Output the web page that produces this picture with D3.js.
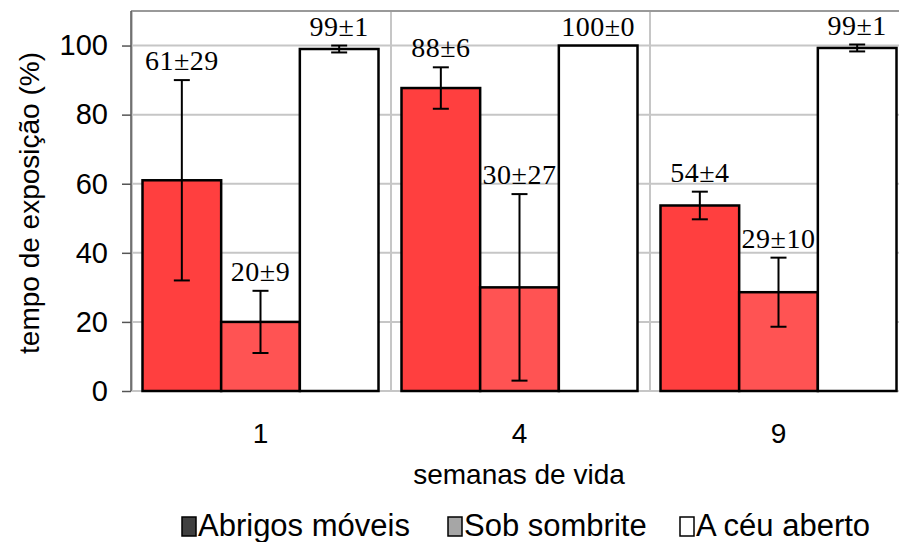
<!DOCTYPE html>
<html lang="pt">
<head>
<meta charset="UTF-8">
<title>tempo de exposição</title>
<style>
  body { margin: 0; background: #fff; }
  svg { display: block; }
</style>
</head>
<body>
<div id="container"></div>
<script src="https://d3js.org/d3.v7.min.js"></script>
<script>
// semanas de vida
var groups = ["1", "4", "9"];
var series = ["Abrigos móveis", "Sob sombrite", "A céu aberto"];
// medias e desvios, uma linha por serie
var means = [
  [61, 87.7, 53.7],
  [20, 30, 28.6],
  [99, 100, 99.3]
];
var errs = [
  [29, 6, 4],
  [9, 27, 10],
  [1, 0, 1]
];
var labels = [
  ["61±29", "88±6", "54±4"],
  ["20±9", "30±27", "29±10"],
  ["99±1", "100±0", "99±1"]
];
var yTicks = [0, 20, 40, 60, 80, 100];

var barColors = ["#ff3f3f", "#ff5353", "#ffffff"];
var legendColors = ["#404040", "#a6a6a6", "#ffffff"];

var width = 899, height = 542;
var plot = {left: 131, right: 908, top: 11, bottom: 391};

var svg = d3.select("#container").append("svg")
    .attr("width", width)
    .attr("height", height);

var x0 = d3.scaleBand().domain(groups).range([plot.left, plot.right]);
var x1 = d3.scaleBand().domain(d3.range(series.length))
    .range([11.5, x0.bandwidth() - 11.5]);
var y = d3.scaleLinear().domain([0, 110]).range([plot.bottom, plot.top]);

// grid
svg.append("g").selectAll("line")
    .data(yTicks)
  .enter().append("line")
    .attr("x1", plot.left).attr("x2", plot.right)
    .attr("y1", function(d) { return y(d); })
    .attr("y2", function(d) { return y(d); })
    .attr("stroke", "#c6c6c6").attr("stroke-width", 2);

svg.append("g").selectAll("line")
    .data(groups)
  .enter().append("line")
    .attr("x1", function(d) { return x0(d) + 1; })
    .attr("x2", function(d) { return x0(d) + 1; })
    .attr("y1", plot.top).attr("y2", plot.bottom)
    .attr("stroke", "#c6c6c6").attr("stroke-width", 2);

// top border
svg.append("line")
    .attr("x1", plot.left).attr("x2", plot.right)
    .attr("y1", plot.top).attr("y2", plot.top)
    .attr("stroke", "#999").attr("stroke-width", 2);

// bars
var rows = [];
series.forEach(function(s, i) {
  groups.forEach(function(g, j) {
    rows.push({s: i, g: g, v: means[i][j], e: errs[i][j], t: labels[i][j]});
  });
});

svg.append("g").selectAll("rect")
    .data(rows)
  .enter().append("rect")
    .attr("x", function(d) { return x0(d.g) + x1(d.s); })
    .attr("y", function(d) { return y(d.v); })
    .attr("width", x1.bandwidth())
    .attr("height", function(d) { return y(0) - y(d.v); })
    .attr("fill", function(d) { return barColors[d.s]; })
    .attr("stroke", "#000").attr("stroke-width", 2.5);

// error bars
var cx = function(d) { return x0(d.g) + x1(d.s) + x1.bandwidth() / 2; };
var eb = svg.append("g").attr("stroke", "#000").attr("stroke-width", 2)
  .selectAll("g").data(rows.filter(function(d) { return d.e > 0; }))
  .enter().append("g");
eb.append("line")
    .attr("x1", cx).attr("x2", cx)
    .attr("y1", function(d) { return y(d.v + d.e); })
    .attr("y2", function(d) { return y(d.v - d.e); });
[1, -1].forEach(function(sg) {
  eb.append("line")
      .attr("x1", function(d) { return cx(d) - 8; })
      .attr("x2", function(d) { return cx(d) + 8; })
      .attr("y1", function(d) { return y(d.v + sg * d.e); })
      .attr("y2", function(d) { return y(d.v + sg * d.e); });
});

// value labels
svg.append("g").selectAll("text")
    .data(rows)
  .enter().append("text")
    .attr("x", cx)
    .attr("y", function(d) { return y(d.v + d.e) - 10; })
    .attr("text-anchor", "middle")
    .attr("font-family", "Liberation Serif, Times New Roman, serif")
    .attr("font-size", 28)
    .attr("letter-spacing", 0.5)
    .attr("fill", "#000")
    .text(function(d) { return d.t; });

// y axis
var yAxis = svg.append("g")
    .attr("transform", "translate(" + plot.left + ",0)")
    .call(d3.axisLeft(y).tickValues(yTicks).tickSize(9).tickPadding(14));
yAxis.select(".domain").attr("stroke", "#555").attr("stroke-width", 1.5)
    .attr("d", "M0," + plot.top + "V" + plot.bottom);
yAxis.selectAll(".tick line").attr("stroke", "#555").attr("stroke-width", 1.5);
yAxis.selectAll(".tick text")
    .attr("font-family", "Liberation Sans, Arial, sans-serif")
    .attr("font-size", 29).attr("fill", "#000");

// x labels
svg.append("g").selectAll("text")
    .data(groups)
  .enter().append("text")
    .attr("x", function(d) { return x0(d) + x0.bandwidth() / 2; })
    .attr("y", 443)
    .attr("text-anchor", "middle")
    .attr("font-family", "Liberation Sans, Arial, sans-serif")
    .attr("font-size", 28)
    .text(function(d) { return d; });

svg.append("text")
    .attr("x", 519).attr("y", 484)
    .attr("text-anchor", "middle")
    .attr("font-family", "Liberation Sans, Arial, sans-serif")
    .attr("font-size", 28)
    .text("semanas de vida");

svg.append("text")
    .attr("transform", "translate(39,203) rotate(-90)")
    .attr("text-anchor", "middle")
    .attr("font-family", "Liberation Sans, Arial, sans-serif")
    .attr("font-size", 28)
    .text("tempo de exposição (%)");

// legend
var legendX = [182, 448, 680];
var leg = svg.append("g").selectAll("g")
    .data(series)
  .enter().append("g")
    .attr("transform", function(d, i) { return "translate(" + legendX[i] + ",517)"; });
leg.append("rect")
    .attr("width", 14).attr("height", 19)
    .attr("fill", function(d, i) { return legendColors[i]; })
    .attr("stroke", "#000").attr("stroke-width", 1.5);
leg.append("text")
    .attr("x", 16).attr("y", 19)
    .attr("font-family", "Liberation Sans, Arial, sans-serif")
    .attr("font-size", 31)
    .text(function(d) { return d; });
</script>
</body>
</html>
